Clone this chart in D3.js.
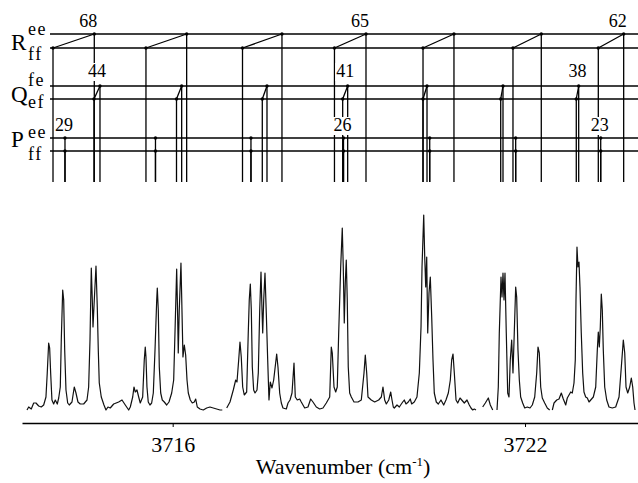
<!DOCTYPE html>
<html>
<head>
<meta charset="utf-8">
<script src="https://cdn.jsdelivr.net/npm/d3@7"></script>
<style>
  body { margin: 0; background: #fff; }
  svg { display: block; }
  svg text { font-family: "Liberation Serif", "Times New Roman", serif; }
</style>
</head>
<body>
<svg id="chart" width="638" height="483"></svg>
<script>
const width = 638,
  height = 483;

// line assignments, wavenumber in cm-1
const rJ = [68, 67, 66, 65, 64, 63, 62];
const rEE = [3714.665, 3716.238, 3717.861, 3719.292, 3720.79, 3722.277, 3723.68];
const rFF = [3713.962, 3715.545, 3717.189, 3718.755, 3720.263, 3721.795, 3723.248];
const qJ = [44, 43, 42, 41, 40, 39, 38];
const qFE = [3714.762, 3716.153, 3717.606, 3718.98, 3720.331, 3721.625, 3722.914];
const qEF = [3714.66, 3716.065, 3717.526, 3718.895, 3720.263, 3721.586, 3722.873];
const pJ = [29, 28, 27, 26, 25, 24, 23];
const pEE = [3714.166, 3715.707, 3717.333, 3718.909, 3720.377, 3721.841, 3723.289];
const pFF = [3714.166, 3715.707, 3717.333, 3718.909, 3720.377, 3721.841, 3723.289];
const labelled = [0, 3, 6];

// recorded spectrum (arb. units), null marks a break between scans
const specWn = [
  3713.519, 3713.548, 3713.592, 3713.633, 3713.672, 3713.718, 3713.762, 3713.803, 3713.842, 3713.864,
  3713.888, 3713.905, 3713.922, 3713.944, 3713.973, 3714.001, 3714.035, 3714.059, 3714.086, 3714.103,
  3714.127, 3714.144, 3714.161, 3714.183, 3714.212, 3714.239, 3714.285, 3714.324, 3714.353, 3714.387,
  3714.426, 3714.484, 3714.541, 3714.569, 3714.592, 3714.614, 3714.631, 3714.643, 3714.665, 3714.694,
  3714.716, 3714.733, 3714.75, 3714.784, 3714.83, 3714.864, 3714.898, 3714.937, 3714.995, 3715.08,
  3715.137, 3715.193, 3715.251, 3715.278, 3715.319, 3715.341, 3715.363, 3715.392, 3715.421, 3715.448,
  3715.489, 3715.516, 3715.533, 3715.545, 3715.562, 3715.584, 3715.613, 3715.642, 3715.67, 3715.699,
  3715.728, 3715.738, 3715.755, 3715.772, 3715.796, 3715.823, 3715.857, 3715.898, 3715.937, 3715.983,
  3716.017, 3716.039, 3716.068, 3716.085, 3716.095, 3716.112, 3716.141, 3716.158, 3716.175, 3716.198,
  3716.221, 3716.244, 3716.266, 3716.3, 3716.334, 3716.368, 3716.392, 3716.419, 3716.465, 3716.521,
  3716.579, 3716.635, 3716.691, 3716.749, 3716.806, 3716.845, null,
  3716.92, 3716.976, 3717.032, 3717.073, 3717.095, 3717.124, 3717.146, 3717.168, 3717.192, 3717.219,
  3717.26, 3717.287, 3717.304, 3717.322, 3717.339, 3717.356, 3717.379, 3717.402, 3717.436, 3717.458,
  3717.482, 3717.504, 3717.521, 3717.533, 3717.55, 3717.572, 3717.594, 3717.618, 3717.64, 3717.662,
  3717.691, 3717.72, 3717.771, 3717.793, 3717.822, 3717.85, 3717.878, 3717.935, 3717.964, 3717.998,
  3718.032, 3718.066, 3718.088, 3718.122, 3718.163, 3718.19, 3718.248, 3718.304, 3718.35, 3718.389,
  3718.446, 3718.503, 3718.56, 3718.616, 3718.674, 3718.701, 3718.718, 3718.747, 3718.776, 3718.803,
  3718.827, 3718.861, 3718.888, 3718.905, 3718.922, 3718.939, 3718.956, 3718.973, 3718.99, 3719.014,
  3719.042, 3719.088, 3719.156, 3719.212, 3719.258, 3719.28, 3719.304, 3719.326, 3719.382, 3719.44,
  3719.508, 3719.553, 3719.581, 3719.61, 3719.638, 3719.679, 3719.713, 3719.735, 3719.757, 3719.774,
  3719.82, 3719.859, 3719.917, 3719.944, 3719.973, 3720.012, 3720.046, 3720.07, 3720.114, 3720.16,
  3720.2, 3720.229, 3720.246, 3720.275, 3720.292, 3720.309, 3720.326, 3720.343, 3720.365, 3720.387,
  3720.411, 3720.433, 3720.455, 3720.489, 3720.523, 3720.569, 3720.615, 3720.654, 3720.694, 3720.728,
  3720.751, 3720.774, 3720.796, 3720.825, 3720.854, 3720.893, 3720.922, 3720.966, 3721.012, 3721.051,
  3721.08, 3721.109, 3721.136, 3721.165, null,
  3721.279, 3721.324, 3721.375, 3721.409, 3721.45, null,
  3721.523, 3721.545, 3721.562, 3721.591, 3721.608, 3721.625, 3721.642, 3721.659, 3721.681, 3721.705,
  3721.727, 3721.749, 3721.773, 3721.795, 3721.817, 3721.841, 3721.858, 3721.88, 3721.903, 3721.926,
  3721.96, 3721.995, 3722.039, 3722.085, 3722.124, 3722.165, 3722.199, 3722.221, 3722.243, 3722.267,
  3722.294, 3722.335, 3722.379, 3722.42, null,
  3722.465, 3722.494, 3722.54, 3722.579, 3722.618, 3722.652, 3722.693, 3722.72, 3722.749, 3722.778,
  3722.805, 3722.834, 3722.856, 3722.868, 3722.885, 3722.902, 3722.919, 3722.936, 3722.958, 3722.982,
  3723.004, 3723.033, 3723.061, 3723.09, 3723.119, 3723.163, 3723.204, 3723.231, 3723.248, 3723.265,
  3723.282, 3723.299, 3723.316, 3723.333, 3723.357, 3723.391, 3723.43, 3723.486, 3723.544, 3723.601,
  3723.64, 3723.674, 3723.698, 3723.72, 3723.749, 3723.783, 3723.81, 3723.834, 3723.856, 3723.873
];
const specInt = [
  0, 3, 1, 7, 7, 4, 3, 5, 13, 37,
  67, 62, 37, 10, 6, 10, 6, 12, 23, 70,
  120, 110, 60, 20, 7, 5, 8, 23, 17, 8,
  6, 6, 10, 23, 70, 142, 110, 83, 110, 144,
  103, 60, 27, 13, 5, 0, 3, 2, 6, 8,
  10, 5, 0, 3, 13, 23, 18, 20, 13, 7,
  13, 50, 63, 53, 23, 8, 5, 7, 17, 60,
  110, 122, 100, 43, 17, 10, 8, 5, 8, 17,
  30, 77, 141, 93, 57, 100, 147, 100, 53, 65,
  55, 30, 17, 10, 7, 8, 11, 3, 1, 0,
  2, 3, 2, 1, 0, 0, null,
  2, 8, 20, 30, 28, 50, 68, 53, 23, 15,
  18, 77, 110, 126, 100, 43, 20, 17, 20, 37,
  100, 138, 100, 77, 110, 137, 97, 50, 10, 28,
  22, 30, 56, 43, 17, 7, 2, 1, 7, 10,
  17, 47, 13, 10, 11, 8, 2, 3, 11, 8,
  3, 1, 2, 7, 13, 63, 57, 23, 18, 23,
  77, 143, 182, 143, 87, 127, 150, 110, 43, 17,
  13, 8, 8, 10, 37, 55, 37, 13, 10, 8,
  10, 13, 23, 10, 6, 10, 18, 10, 3, 2,
  5, 3, 8, 10, 6, 8, 11, 6, 8, 13,
  37, 83, 143, 195, 153, 123, 153, 77, 117, 133,
  93, 50, 17, 8, 6, 10, 5, 10, 17, 30,
  50, 56, 37, 10, 7, 12, 10, 7, 10, 5,
  2, 0, 1, 0, null,
  3, 7, 12, 5, 0, null,
  0, 23, 77, 133, 113, 137, 110, 137, 77, 17,
  13, 50, 70, 37, 77, 123, 113, 60, 30, 13,
  7, 2, 3, 2, 5, 13, 37, 63, 57, 23,
  12, 7, 2, 0, null,
  0, 7, 10, 11, 17, 11, 5, 12, 15, 18,
  17, 27, 50, 110, 163, 143, 148, 123, 77, 37,
  18, 13, 12, 8, 10, 13, 23, 60, 78, 63,
  83, 116, 100, 60, 23, 10, 3, 2, 3, 13,
  43, 70, 57, 23, 17, 23, 32, 23, 7, 0
];
const xTicks = [3716, 3722];

const serif = "'Liberation Serif', 'Times New Roman', serif";
const svg = d3.select("#chart");

const x = d3.scaleLinear().domain([3713.434, 3723.924]).range([22, width]);
const y = d3.scaleLinear().domain([0, 195]).range([410, 215]);

// y of the level lines in the assignment diagram
const lvl = { ree: 34, rff: 48, qfe: 86, qef: 99, pee: 138, pff: 151 };
const stickLeft = 50,
  stickBottom = 182;

const sticks = svg
  .append("g")
  .attr("stroke", "#000")
  .attr("stroke-width", 1.3)
  .attr("fill", "none");

Object.values(lvl).forEach((ly) => {
  sticks
    .append("line")
    .attr("x1", stickLeft)
    .attr("x2", width)
    .attr("y1", ly)
    .attr("y2", ly);
});

function drop(xv, top) {
  sticks
    .append("line")
    .attr("x1", x(xv))
    .attr("x2", x(xv))
    .attr("y1", top)
    .attr("y2", stickBottom);
}

function join(xa, ya, xb, yb) {
  sticks
    .append("line")
    .attr("x1", x(xa))
    .attr("y1", ya)
    .attr("x2", x(xb))
    .attr("y2", yb);
}

rJ.forEach((j, i) => {
  drop(rEE[i], lvl.ree);
  drop(rFF[i], lvl.rff);
  join(rFF[i], lvl.rff, rEE[i], lvl.ree);
});
qJ.forEach((j, i) => {
  drop(qFE[i], lvl.qfe);
  drop(qEF[i], lvl.qef);
  join(qEF[i], lvl.qef, qFE[i], lvl.qfe);
});
pJ.forEach((j, i) => {
  drop(pEE[i], lvl.pee);
  drop(pFF[i], lvl.pff);
});

// J labels, with a white patch behind so they cut the lines
const labels = svg
  .append("g")
  .style("font-family", serif)
  .style("font-size", "18px");

function jLabel(text, lx, ly, anchor) {
  const t = labels
    .append("text")
    .attr("x", lx)
    .attr("y", ly)
    .attr("text-anchor", anchor)
    .text(text);
  const b = t.node().getBBox();
  labels
    .insert("rect", () => t.node())
    .attr("x", b.x - 1)
    .attr("y", b.y + 2)
    .attr("width", b.width + 2)
    .attr("height", b.height - 2)
    .attr("fill", "#fff");
}

labelled.forEach((i) => {
  jLabel(rJ[i], x(rEE[i]) + 3, 27, "end");
  jLabel(qJ[i], (x(qEF[i]) + x(qFE[i])) / 2, 77, "middle");
  jLabel(pJ[i], x(pEE[i]) - 1, 131, "middle");
});

const dots = [];
rJ.forEach((j, i) => {
  dots.push([rEE[i], lvl.ree], [rFF[i], lvl.rff]);
  dots.push([qFE[i], lvl.qfe], [qEF[i], lvl.qef]);
  dots.push([pEE[i], lvl.pee], [pFF[i], lvl.pff]);
});
svg
  .append("g")
  .selectAll("circle")
  .data(dots)
  .join("circle")
  .attr("cx", (d) => x(d[0]))
  .attr("cy", (d) => d[1])
  .attr("r", 1.7)
  .attr("fill", "#000");

// branch names
const branch = [
  ["R", "ee", "ff", 50, 35, 60],
  ["Q", "fe", "ef", 102, 86, 108],
  ["P", "ee", "ff", 147, 138, 160],
];
const names = svg.append("g").attr("fill", "#000").style("font-family", serif);
branch.forEach((b) => {
  names
    .append("text")
    .attr("x", 11)
    .attr("y", b[3])
    .style("font-size", "23px")
    .text(b[0]);
  names
    .append("text")
    .attr("x", 28)
    .attr("y", b[4])
    .style("font-size", "18px")
    .style("letter-spacing", "1.5px")
    .text(b[1]);
  names
    .append("text")
    .attr("x", 28)
    .attr("y", b[5])
    .style("font-size", "18px")
    .style("letter-spacing", "1.5px")
    .text(b[2]);
});

// spectrum
const spec = specWn.map((w, i) => [w, specInt[i]]);
const line = d3
  .line()
  .defined((d) => d[0] !== null && d[1] !== null)
  .x((d) => x(d[0]))
  .y((d) => y(d[1]));

svg
  .append("path")
  .datum(spec)
  .attr("d", line)
  .attr("fill", "none")
  .attr("stroke", "#111")
  .attr("stroke-width", 1.2)
  .attr("stroke-linejoin", "round");

// x axis
const axis = svg
  .append("g")
  .attr("transform", "translate(0,423)")
  .call(
    d3
      .axisBottom(x)
      .tickValues(xTicks)
      .tickSize(4)
      .tickSizeOuter(0)
      .tickFormat(d3.format("d"))
  );
axis.select(".domain").attr("stroke-width", 1.6);
axis
  .selectAll("text")
  .attr("y", 13)
  .style("font-size", "22px")
  .style("font-family", serif)
  .attr("fill", "#000");

const title = svg
  .append("text")
  .attr("x", 343)
  .attr("y", 474)
  .attr("text-anchor", "middle")
  .style("font-family", serif)
  .style("font-size", "22px");
title.append("tspan").text("Wavenumber (cm");
title
  .append("tspan")
  .attr("dy", -8)
  .style("font-size", "13px")
  .text("-1");
title.append("tspan").attr("dy", 8).text(")");
</script>
</body>
</html>
